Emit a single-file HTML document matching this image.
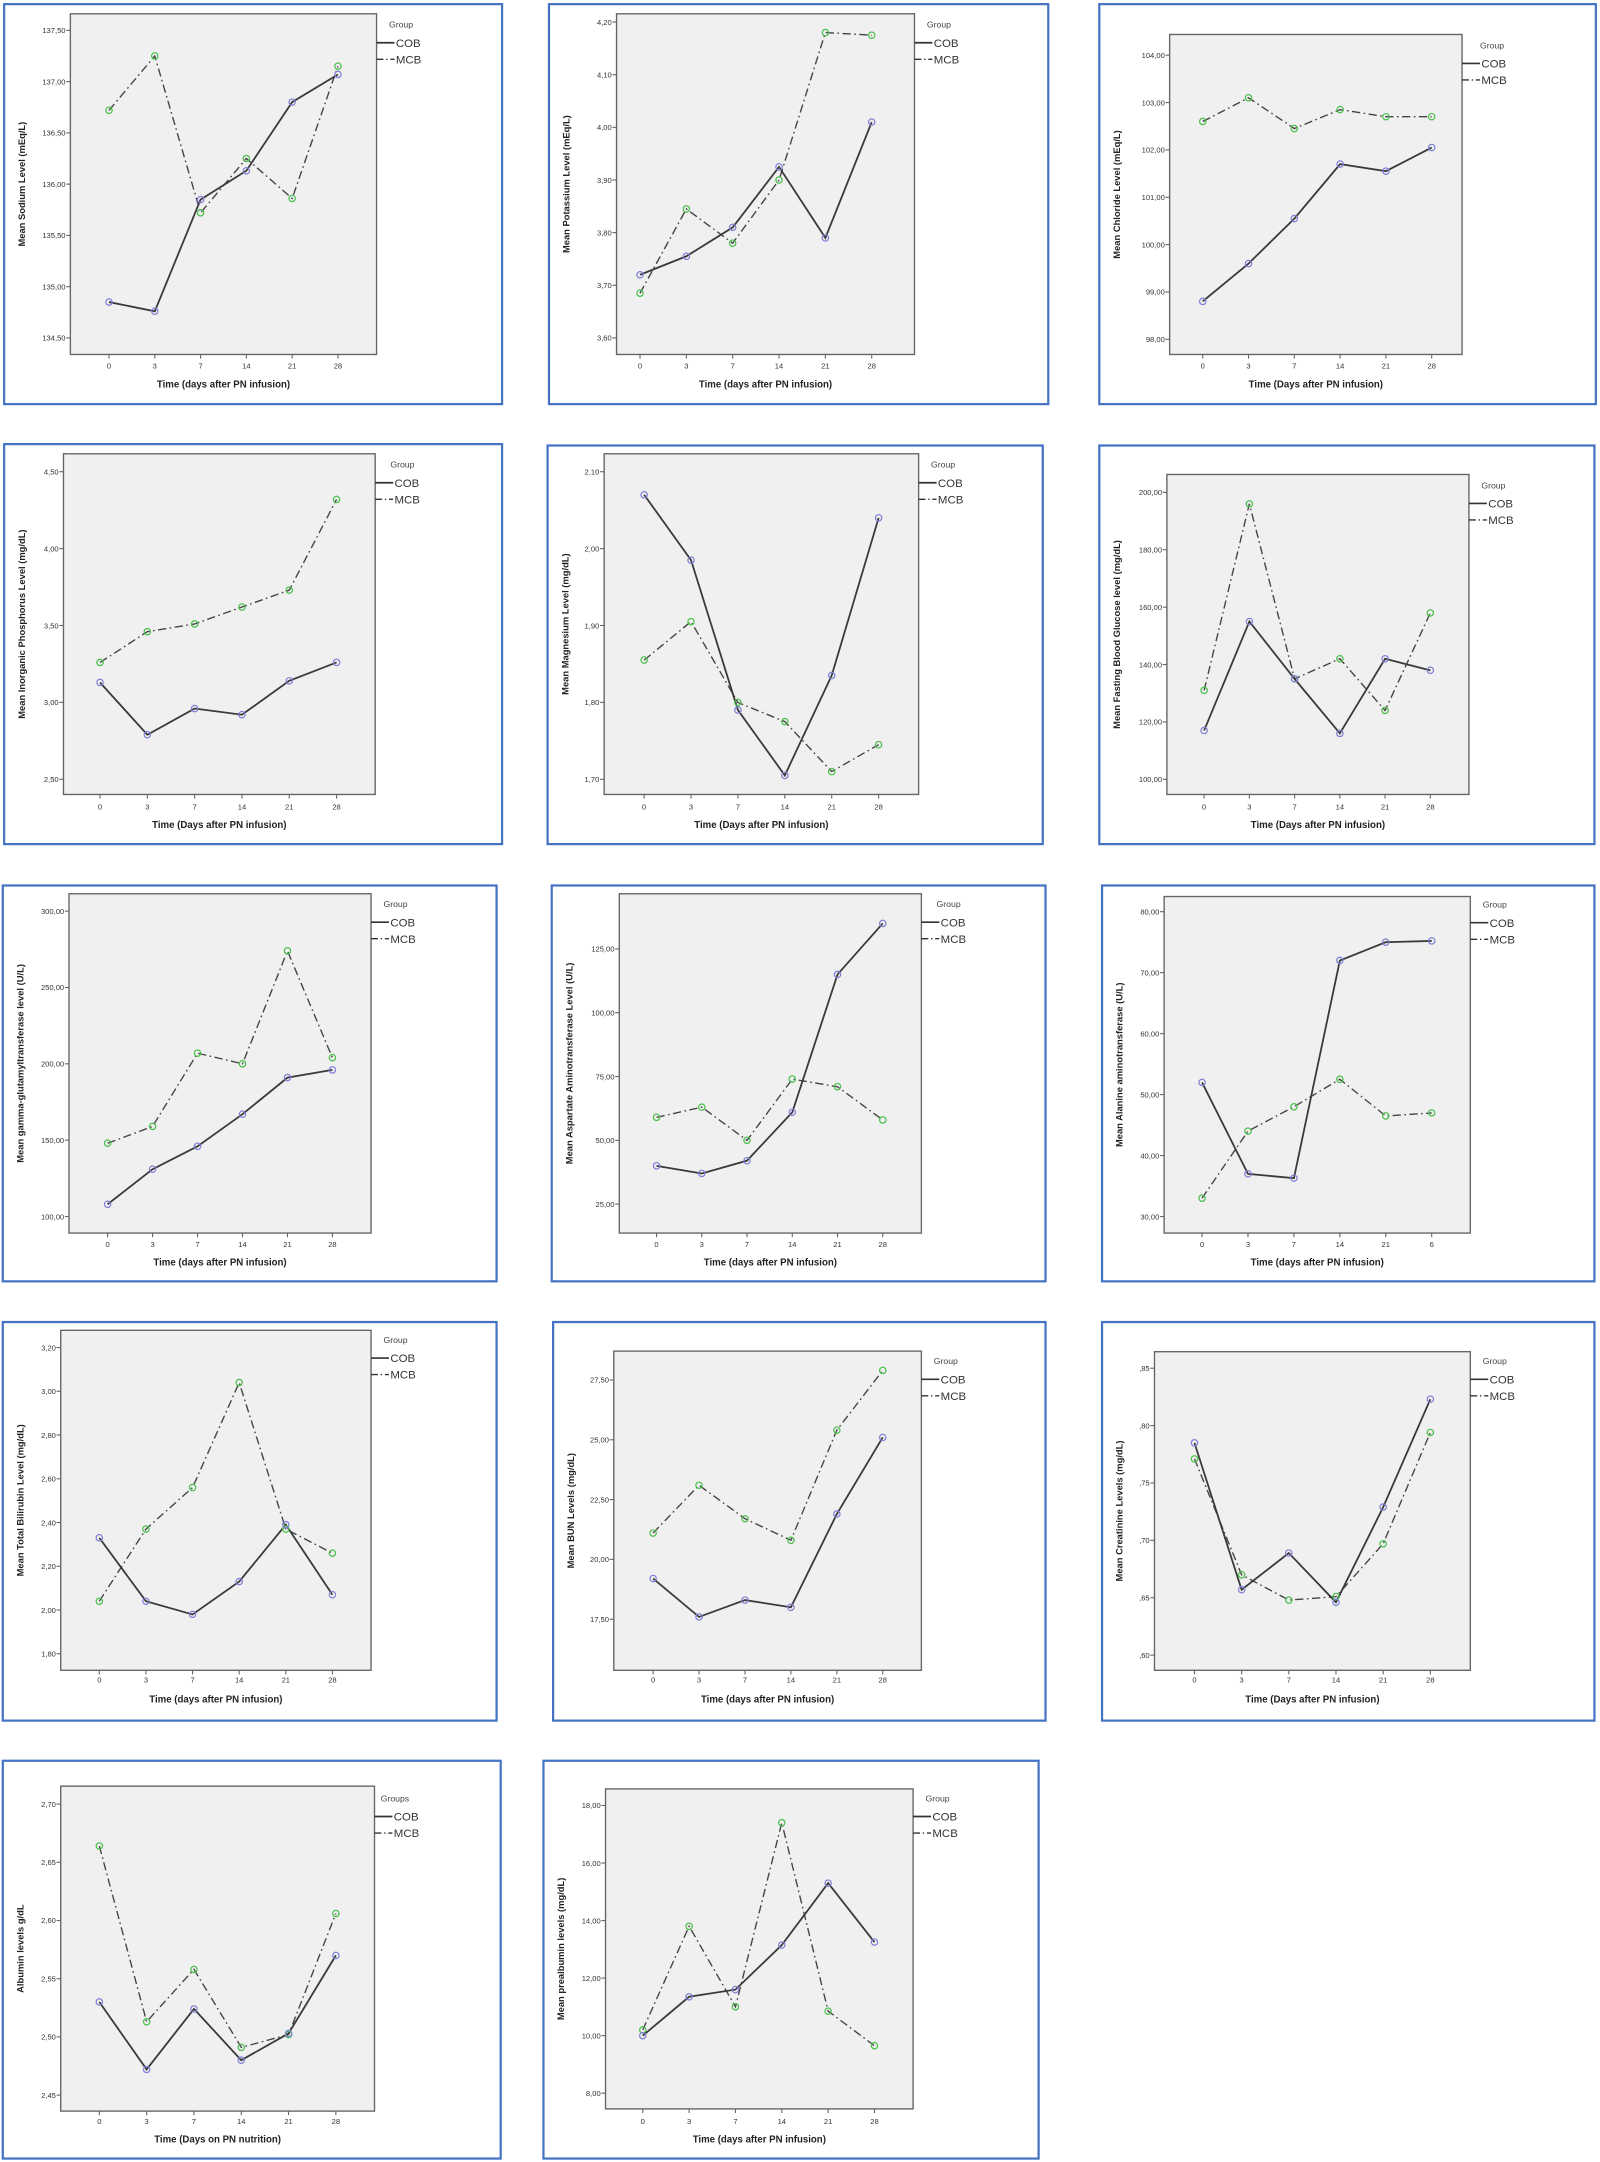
<!DOCTYPE html>
<html><head><meta charset="utf-8"><style>
html,body{margin:0;padding:0;background:#fff;}
svg{display:block;}
text{font-family:"Liberation Sans",sans-serif;}
</style></head><body>
<svg id="s" width="1600" height="2162" viewBox="0 0 1160 1567.5" xmlns="http://www.w3.org/2000/svg"></svg>
<script>
var P=[
{f:[3,3,364,293],p:[51,10,273,257],yt:[22,245],ya:[134.5,137.5,0.5],xc:[79,245],lg:[282,18],xl:265,xt:278.5,yl:"Mean Sodium Level (mEq/L)",xtl:"Time (days after PN infusion)",
c:[134.85,134.76,135.85,136.13,136.80,137.07],m:[136.72,137.25,135.72,136.25,135.86,137.15]},
{f:[398,3,760,293],p:[447,10,663,257],yt:[16,245],ya:[3.6,4.2,0.1],xc:[464,632],lg:[672,18],xl:265,xt:278.5,yl:"Mean Potassium Level (mEq/L)",xtl:"Time (days after PN infusion)",
c:[3.72,3.755,3.81,3.925,3.79,4.01],m:[3.685,3.845,3.78,3.90,4.18,4.175]},
{f:[797,3,1157,293],p:[848,25,1060,257],yt:[40,246],ya:[98,104,1],xc:[872,1038],lg:[1073,33],xl:265,xt:278.5,yl:"Mean Chloride Level (mEq/L)",xtl:"Time (Days after PN infusion)",
c:[98.8,99.6,100.55,101.7,101.55,102.05],m:[102.6,103.1,102.45,102.85,102.7,102.7]},
{f:[3,322,364,612],p:[46,329,272,576],yt:[342,565],ya:[2.5,4.5,0.5],xc:[72.5,244],lg:[283,337],xl:585,xt:598,yl:"Mean Inorganic Phosphorus Level (mg/dL)",xtl:"Time (Days after PN infusion)",
c:[3.13,2.79,2.96,2.92,3.14,3.26],m:[3.26,3.46,3.51,3.62,3.73,4.32]},
{f:[397,323,756,612],p:[438,329,666,576],yt:[342,565],ya:[1.7,2.1,0.1],xc:[467,637],lg:[675,337],xl:585,xt:598,yl:"Mean Magnesium Level (mg/dL)",xtl:"Time (Days after PN infusion)",
c:[2.07,1.985,1.79,1.705,1.835,2.04],m:[1.855,1.905,1.80,1.775,1.71,1.745]},
{f:[797,323,1156,612],p:[846,344,1065,576],yt:[357,565],ya:[100,200,20],xc:[873,1037],lg:[1074,352],xl:585,xt:598,yl:"Mean Fasting Blood Glucose level (mg/dL)",xtl:"Time (Days after PN infusion)",
c:[117,155,135,116,142,138],m:[131,196,135,142,124,158]},
{f:[2,642,360,929],p:[50,648,269,894],yt:[660.6,882],ya:[100,300,50],xc:[78,241],lg:[278,655.6],xl:902,xt:915,yl:"Mean gamma-glutamyltransferase level (U/L)",xtl:"Time (days after PN infusion)",
c:[108,131,146,167,191,196],m:[148,159,207,200,274,204]},
{f:[400,642,758,929],p:[449,648,668,894],yt:[688,873],ya:[25,125,25],xc:[476,640],lg:[679,655.6],xl:902,xt:915,yl:"Mean Aspartate Aminotransferase Level (U/L)",xtl:"Time (days after PN infusion)",
c:[40,37,42,61,115,135],m:[59,63,50,74,71,58]},
{f:[799,642,1156,929],p:[844,650,1066,894],yt:[661,882],ya:[30,80,10],xc:[871.5,1038],lg:[1075,656],xl:902,xt:915,yl:"Mean Alanine aminotransferase (U/L)",xtl:"Time (days after PN infusion)",xlabs:["0","3","7","14","21","6"],
c:[52,37,36.3,72,75,75.2],m:[33,44,48,52.5,46.5,47]},
{f:[2,958.5,360,1247.5],p:[44,964.5,269,1211],yt:[977,1199],ya:[1.8,3.2,0.2],xc:[72,241],lg:[278,971.6],xl:1218,xt:1232,yl:"Mean Total Bilirubin Level (mg/dL)",xtl:"Time (days after PN infusion)",
c:[2.33,2.04,1.98,2.13,2.39,2.07],m:[2.04,2.37,2.56,3.04,2.37,2.26]},
{f:[401,958.5,758,1247.5],p:[445,979.6,668,1211],yt:[1000.5,1174],ya:[17.5,27.5,2.5],xc:[473.5,640],lg:[677,987],xl:1218,xt:1232,yl:"Mean BUN Levels (mg/dL)",xtl:"Time (days after PN infusion)",
c:[19.2,17.6,18.3,18.0,21.9,25.1],m:[21.1,23.1,21.7,20.8,25.4,27.9]},
{f:[799,958.5,1156,1247.5],p:[837,980,1066,1211],yt:[992,1200],ya:[0.6,0.85,0.05],xc:[866,1037],lg:[1075,987],xl:1218,xt:1232,yl:"Mean Creatinine Levels (mg/dL)",xtl:"Time (Days after PN infusion)",nolead:true,
c:[0.785,0.657,0.689,0.646,0.729,0.823],m:[0.771,0.670,0.648,0.651,0.697,0.794]},
{f:[2,1276.6,363,1565],p:[44,1295,271.5,1530.6],yt:[1308,1519],ya:[2.45,2.7,0.05],xc:[72,243.5],lg:[276,1304],xl:1538,xt:1551,yl:"Albumin levels g/dL",xtl:"Time (Days on PN nutrition)",grp:"Groups",
c:[2.530,2.472,2.524,2.480,2.503,2.570],m:[2.664,2.513,2.558,2.491,2.502,2.606]},
{f:[394,1276.6,753,1565],p:[439,1297,662,1529],yt:[1309,1517.6],ya:[8,18,2],xc:[466,634],lg:[671,1304],xl:1538,xt:1551,yl:"Mean prealbumin levels (mg/dL)",xtl:"Time (days after PN infusion)",
c:[10.0,11.35,11.6,13.15,15.3,13.25],m:[10.2,13.8,11.0,17.4,10.85,9.65]}
];
var o="";
function fmt(v,nl){var s=v.toFixed(2).replace(".",",");if(nl&&s.charAt(0)=="0")s=s.substring(1);return s;}
P.forEach(function(d){
var f=d.f,p=d.p,ya=d.ya;
o+='<rect x="'+f[0]+'" y="'+f[1]+'" width="'+(f[2]-f[0])+'" height="'+(f[3]-f[1])+'" fill="#fff" stroke="#4472c4" stroke-width="1.6"/>';
o+='<rect x="'+p[0]+'" y="'+p[1]+'" width="'+(p[2]-p[0])+'" height="'+(p[3]-p[1])+'" fill="#f0f0f0" stroke="#666" stroke-width="1"/>';
var n=Math.round((ya[1]-ya[0])/ya[2]);
function Y(v){return d.yt[1]+(v-ya[0])/(ya[1]-ya[0])*(d.yt[0]-d.yt[1]);}
function X(i){return d.xc[0]+i*(d.xc[1]-d.xc[0])/5;}
for(var k=0;k<=n;k++){var v=ya[0]+k*ya[2],y=Y(v);
o+='<line x1="'+(p[0]-3)+'" y1="'+y+'" x2="'+p[0]+'" y2="'+y+'" stroke="#666" stroke-width="0.8"/>';
o+='<text x="'+(p[0]-3.5)+'" y="'+(y+2)+'" font-size="5.5" text-anchor="end" fill="#333">'+fmt(v,d.nolead)+'</text>';}
var xl=d.xlabs||["0","3","7","14","21","28"];
for(var i=0;i<6;i++){var x=X(i);
o+='<line x1="'+x+'" y1="'+p[3]+'" x2="'+x+'" y2="'+(p[3]+3)+'" stroke="#666" stroke-width="0.8"/>';
o+='<text x="'+x+'" y="'+(d.xl+2)+'" font-size="5.5" text-anchor="middle" fill="#333">'+xl[i]+'</text>';}
o+='<text x="'+((p[0]+p[2])/2)+'" y="'+(d.xt+2.5)+'" font-size="7" font-weight="bold" text-anchor="middle" fill="#222">'+d.xtl+'</text>';
var yc=(p[1]+p[3])/2,tx=f[0]+15;
o+='<text transform="translate('+tx+','+yc+') rotate(-90)" font-size="6.8" font-weight="bold" text-anchor="middle" fill="#222">'+d.yl+'</text>';
function path(a){return a.map(function(v,i){return (i?'L':'M')+X(i).toFixed(1)+','+Y(v).toFixed(1);}).join('');}
o+='<path d="'+path(d.m)+'" fill="none" stroke="#444" stroke-width="1" stroke-dasharray="6,2.5,1.2,2.5"/>';
o+='<path d="'+path(d.c)+'" fill="none" stroke="#3a3a3a" stroke-width="1.3"/>';
d.m.forEach(function(v,i){o+='<circle cx="'+X(i)+'" cy="'+Y(v)+'" r="2.3" fill="none" stroke="#4cbf4c" stroke-width="0.9"/>';});
d.c.forEach(function(v,i){o+='<circle cx="'+X(i)+'" cy="'+Y(v)+'" r="2.3" fill="none" stroke="#8080d8" stroke-width="0.9"/>';});
var gx=d.lg[0],gy=d.lg[1];
o+='<text x="'+gx+'" y="'+(gy+2)+'" font-size="6.3" fill="#444">'+(d.grp||"Group")+'</text>';
o+='<line x1="'+p[2]+'" y1="'+(gy+13)+'" x2="'+(p[2]+13)+'" y2="'+(gy+13)+'" stroke="#333" stroke-width="1.2"/>';
o+='<line x1="'+p[2]+'" y1="'+(gy+25)+'" x2="'+(p[2]+13)+'" y2="'+(gy+25)+'" stroke="#333" stroke-width="1" stroke-dasharray="5,2,1,2"/>';
o+='<text x="'+(p[2]+14)+'" y="'+(gy+16)+'" font-size="8.3" fill="#333">COB</text>';
o+='<text x="'+(p[2]+14)+'" y="'+(gy+28)+'" font-size="8.3" fill="#333">MCB</text>';
});
document.getElementById("s").innerHTML=o;
</script>
</body></html>
